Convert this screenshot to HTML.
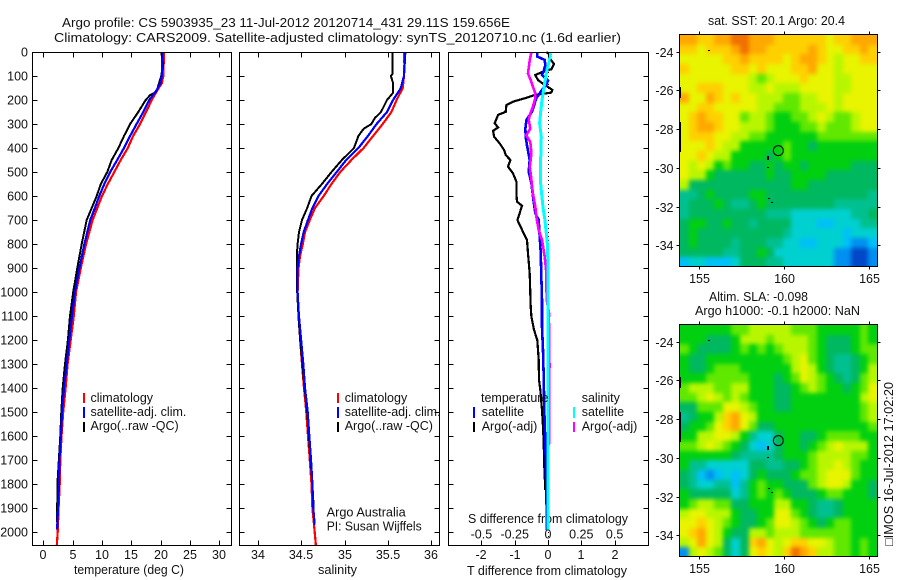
<!DOCTYPE html>
<html lang="en">
<head>
<meta charset="utf-8">
<title>Argo profile CS 5903935_23</title>
<style>
html,body{margin:0;padding:0;background:#fff;width:900px;height:580px;overflow:hidden}
svg{display:block}
text{font-family:"Liberation Sans",Arial,sans-serif;font-size:12.5px;fill:#111}
</style>
</head>
<body>
<svg id="fig" width="900" height="580" viewBox="0 0 900 580" xmlns="http://www.w3.org/2000/svg">
<defs>
<filter id="soften" x="-10%" y="-10%" width="120%" height="120%" color-interpolation-filters="sRGB"><feGaussianBlur stdDeviation="2.2"/></filter>
<clipPath id="clip-sst"><rect x="680" y="35" width="197" height="232"/></clipPath>
<clipPath id="clip-sla"><rect x="680" y="325" width="197" height="232"/></clipPath>
</defs>
<text x="62" y="27" textLength="448" lengthAdjust="spacingAndGlyphs">Argo profile: CS 5903935_23 11-Jul-2012 20120714_431 29.11S 159.656E</text>
<text x="54" y="42" textLength="567" lengthAdjust="spacingAndGlyphs">Climatology: CARS2009. Satellite-adjusted climatology: synTS_20120710.nc (1.6d earlier)</text>
<text x="74" y="574" textLength="110" lengthAdjust="spacingAndGlyphs">temperature (deg C)</text>
<text x="318" y="574" textLength="39" lengthAdjust="spacingAndGlyphs">salinity</text>
<text x="468" y="523" textLength="160" lengthAdjust="spacingAndGlyphs">S difference from climatology</text>
<text x="467" y="575" textLength="160" lengthAdjust="spacingAndGlyphs">T difference from climatology</text>
<text x="708" y="25" textLength="137" lengthAdjust="spacingAndGlyphs">sat. SST: 20.1 Argo: 20.4</text>
<text x="709" y="301" textLength="99" lengthAdjust="spacingAndGlyphs">Altim. SLA: -0.098</text>
<text x="695" y="315" textLength="165" lengthAdjust="spacingAndGlyphs">Argo h1000: -0.1 h2000: NaN</text>
<text x="326.7" y="516.7" textLength="79" lengthAdjust="spacingAndGlyphs">Argo Australia</text>
<text x="326.7" y="530.7" textLength="95" lengthAdjust="spacingAndGlyphs">PI: Susan Wijffels</text>
<text transform="translate(893,546) rotate(-90)" textLength="164" lengthAdjust="spacingAndGlyphs">□IMOS 16-Jul-2012 17:02:20</text>
</svg>
<script>
// ---------- profile data ----------
const tempDepthClim = [0,100,130,165,200,250,300,350,400,450,500,550,600,650,700,800,900,1000,1100,1200,1300,1400,1500,1600,1700,1800,1900,2000,2055];
const tempClim = [20.57,20.46,20.2,19.3,18.5,17.5,16.5,15.3,14.4,13.2,12.1,11.0,10.0,9.2,8.4,7.3,6.4,5.57,5.2,4.67,4.15,3.8,3.4,3.1,2.9,2.8,2.6,2.45,2.3];
const tempDepthSat = [0,100,130,165,200,250,300,350,400,450,500,550,600,650,700,800,900,1000,1100,1200,1300,1400,1500,1600,1700,1800,1900,1990];
const tempSat = [20.3,20.2,20.0,19.15,18.07,17.05,15.9,14.8,13.75,12.6,11.4,10.4,9.55,8.8,8.0,7.0,6.15,5.4,4.9,4.43,3.98,3.53,3.2,3.0,2.75,2.67,2.5,2.35];
const tempDepthArgo = [0,50,100,165,180,200,250,300,350,400,450,500,550,600,650,700,800,900,1000,1100,1200,1300,1400,1500,1600,1800,1960];
const tempArgo = [20.1,20.45,20.1,19.3,18.2,17.45,16.2,14.8,13.75,12.8,11.65,10.9,9.8,9.1,8.25,7.4,6.55,5.8,5.1,4.55,4.2,3.7,3.3,3.07,2.9,2.4,2.35];

const salDepthClim = [0,50,100,150,200,250,300,350,400,450,500,550,600,650,700,750,800,850,900,1000,1100,1200,1300,1400,1500,1600,1700,1800,1900,2000,2055];
const salClim = [35.685,35.69,35.685,35.67,35.6,35.54,35.44,35.33,35.22,35.08,34.95,34.85,34.76,34.66,34.6,34.545,34.52,34.487,34.47,34.46,34.47,34.49,34.51,34.533,34.56,34.58,34.6,34.62,34.63,34.657,34.67];
const salDepthSat = [0,100,120,150,200,250,300,350,400,450,500,550,600,650,700,750,800,850,900,1000,1100,1200,1300,1400,1500,1600,1700,1800,1900,1970];
const salSat = [35.7,35.685,35.67,35.65,35.56,35.49,35.37,35.27,35.16,35.02,34.91,34.8,34.7,34.63,34.58,34.53,34.5,34.476,34.46,34.46,34.475,34.5,34.525,34.545,34.576,34.595,34.614,34.63,34.64,34.657];
const salDepthArgo = [0,90,100,130,170,200,250,275,300,320,350,400,450,500,550,600,650,700,750,800,850,900,1000,1100,1200,1300,1400,1500,1600,1700,1800,1900];
const salArgo = [35.555,35.555,35.535,35.56,35.56,35.49,35.42,35.35,35.31,35.22,35.16,35.11,34.97,34.85,34.74,34.62,34.57,34.51,34.476,34.46,34.45,34.45,34.455,34.47,34.49,34.515,34.54,34.57,34.59,34.61,34.63,34.645];

const diffDepthT = [0,12,26,50,72,82,96,117,137,158,169,179,193,207,221,249,262,297,314,328,353,381,408,429,450,478,506,540,589,624,640,658,700,749,783,839,922,1061,1103,1158,1200,1283,1366,1408,1492,1561,1630,1728,1825];
const diffT = [-0.05,0.08,0.05,0.18,0.1,-0.15,-0.38,-0.3,-0.1,0.13,0.1,-0.4,-0.7,-1.05,-1.25,-1.27,-1.5,-1.6,-1.5,-1.65,-1.62,-1.45,-1.32,-1.27,-1.13,-1.2,-1.05,-0.95,-0.95,-0.93,-0.78,-0.82,-0.92,-0.75,-0.63,-0.6,-0.55,-0.52,-0.5,-0.42,-0.32,-0.28,-0.27,-0.23,-0.18,-0.15,-0.13,-0.11,-0.08];
const diffDepthSatT = [0,19,33,54,75,96,119,137,158,193,249,283,319,354,389,450,499,547,603,672,700,769,833,931,1033,1144,1242,1353,1492,1630,1825,1992];
const diffSatT = [-0.32,-0.32,-0.1,-0.08,-0.12,-0.18,0,-0.05,-0.18,-0.35,-0.48,-0.65,-0.68,-0.67,-0.63,-0.55,-0.58,-0.5,-0.45,-0.38,-0.28,-0.25,-0.22,-0.2,-0.18,-0.18,-0.15,-0.13,-0.11,-0.08,-0.05,-0.03];
const diffDepthArgoS = [0,33,89,117,144,172,193,228,262,283,319,347,375,422,478,533,589,644,686,742,783,853,922,964,1033,1089,1110,1311,1366,1630,1644,1992];
const diffArgoS = [-0.125,-0.137,-0.15,-0.13,-0.113,-0.095,-0.095,-0.113,-0.137,-0.145,-0.133,-0.163,-0.133,-0.125,-0.137,-0.125,-0.113,-0.095,-0.088,-0.07,-0.045,-0.025,-0.012,-0.012,-0.01,0.008,0.007,0.011,0.008,0.008,0,0];
const diffDepthSatS = [0,47,75,117,158,200,249,297,353,422,478,533,589,644,700,756,811,922,1061,1992];
const diffSatS = [0.018,0.005,-0.008,-0.02,-0.033,-0.045,-0.055,-0.063,-0.05,-0.053,-0.058,-0.058,-0.048,-0.038,-0.023,-0.013,-0.003,0,0,0];

// ---------- axis labels ----------
const depthTicks = [0,100,200,300,400,500,600,700,800,900,1000,1100,1200,1300,1400,1500,1600,1700,1800,1900,2000];
const tempTicks = [0,5,10,15,20,25,30];
const salTicks = [34,34.5,35,35.5,36];
const diffTTicks = [-2,-1,0,1,2];
const diffSTicks = ["-0.5","-0.25","0","0.25","0.5"];
const lonTicks = [155,160,165];
const latTicks = [-24,-26,-28,-30,-32,-34];

// ---------- map data: colour levels, 23 columns x 24 rows ----------
const sstLevels = [
[11,11,10,10,11,11,12,12,11,11,11,10,10,10,10,10,10,9,10,10,11,11,11],
[10,10,9,10,10,10,11,12,11,11,10,10,10,10,10,11,10,9,9,10,10,11,10],
[9,9,9,9,9,10,10,11,10,10,10,10,9,10,11,11,10,9,8,9,9,10,10],
[10,9,9,9,9,9,10,10,9,10,9,9,9,10,10,11,9,9,8,9,9,9,9],
[9,9,9,9,9,9,9,9,8,7,8,9,9,9,10,9,9,9,8,8,9,9,9],
[9,9,10,10,10,9,9,9,8,8,9,8,8,8,9,9,9,9,8,8,9,9,9],
[11,9,9,11,10,9,10,9,9,8,8,8,7,7,8,8,9,9,8,9,9,9,9],
[9,9,10,10,9,9,9,9,9,8,8,7,7,7,8,8,8,9,8,9,9,9,9],
[9,10,11,10,10,9,9,7,8,8,7,6,6,7,7,8,9,8,7,7,8,9,9],
[9,10,11,11,10,9,9,8,8,8,7,6,6,6,7,7,8,7,7,7,8,9,9],
[9,10,10,10,9,9,8,8,7,7,6,6,6,6,6,6,7,7,7,7,7,7,7],
[9,9,9,10,9,8,8,6,6,6,6,6,7,6,6,5,6,6,6,6,6,6,6],
[9,9,10,9,8,8,6,6,6,6,5,6,7,6,6,6,6,6,6,6,6,6,6],
[9,8,9,8,6,7,6,6,5,5,6,5,6,6,5,6,6,6,6,6,5,5,5],
[9,8,8,6,5,5,5,5,5,5,6,5,5,6,6,6,6,5,5,5,5,5,5],
[8,5,5,5,5,5,5,5,5,5,5,5,5,6,6,5,5,5,5,5,5,5,5],
[4,4,5,6,5,5,5,5,6,6,5,5,5,5,5,5,5,5,5,5,5,5,4],
[4,5,5,5,6,5,4,4,5,6,5,5,5,5,5,5,5,5,4,4,4,4,4],
[4,5,5,5,5,5,5,5,5,5,4,4,4,3,3,3,3,3,3,3,4,4,5],
[5,6,6,5,5,6,5,5,4,5,5,5,5,3,3,3,2,2,3,3,3,4,4],
[5,6,5,5,5,5,5,5,5,5,5,5,4,3,3,3,3,3,3,2,3,3,3],
[5,6,5,5,5,5,4,5,5,5,4,4,3,3,2,2,3,3,3,2,1,1,2],
[5,5,5,5,5,4,4,5,5,6,5,3,3,3,3,3,3,3,1,1,0,0,1],
[2,3,3,2,2,2,3,5,5,5,4,4,3,3,3,3,3,3,1,1,0,0,1]
];
const slaLevels = [
[6,6,6,6,6,6,7,7,8,8,8,8,8,7,7,7,6,6,6,6,6,7,6],
[6,6,6,5,5,5,6,8,8,8,7,8,8,8,8,7,6,5,5,5,6,7,6],
[7,6,5,5,5,5,6,7,6,7,6,7,8,8,8,7,6,5,5,5,6,7,7],
[6,5,5,6,6,6,6,6,6,6,6,6,7,8,9,7,6,5,4,4,5,6,7],
[6,5,5,6,7,7,7,6,6,6,6,6,6,8,9,8,6,5,4,4,5,6,8],
[6,6,6,7,7,7,7,7,6,6,6,5,6,7,9,8,7,6,5,4,5,7,8],
[7,8,8,8,7,7,8,8,6,6,6,5,5,6,7,8,7,6,6,5,6,7,9],
[7,7,8,9,8,7,8,7,6,6,6,5,5,6,6,6,6,6,6,6,6,8,9],
[5,5,7,7,7,9,9,8,7,6,6,5,5,6,6,6,6,6,6,6,6,7,8],
[4,5,6,6,8,10,11,9,8,6,6,6,6,6,6,6,6,6,6,6,6,7,8],
[5,6,6,7,9,10,11,9,7,5,5,6,6,6,6,6,6,6,6,6,6,6,7],
[6,6,8,8,9,9,8,6,4,3,3,5,6,6,5,5,6,7,7,7,7,6,6],
[7,7,8,9,8,7,6,5,3,2,3,5,6,6,5,6,7,8,9,8,8,8,6],
[6,6,6,6,6,6,5,4,4,4,4,5,6,6,6,7,8,8,8,8,7,7,6],
[6,4,4,3,3,3,3,3,5,5,4,4,5,5,6,7,8,8,9,8,7,6,6],
[5,4,2,1,2,3,2,3,5,6,5,5,5,6,7,7,8,9,9,9,7,6,6],
[5,4,3,3,4,4,2,4,6,7,6,6,5,5,5,7,8,9,9,8,6,6,5],
[6,5,5,5,5,5,3,4,6,7,6,7,6,5,5,5,6,7,7,6,6,6,5],
[6,7,8,8,7,7,5,5,6,6,6,8,8,6,6,5,4,4,5,6,6,6,6],
[8,9,9,8,8,8,6,5,5,6,6,9,9,7,6,5,4,4,5,6,6,6,6],
[9,9,10,9,8,7,6,5,5,6,7,9,9,8,7,6,5,6,7,7,6,6,6],
[9,10,11,9,8,6,5,5,8,8,7,8,8,8,7,7,7,7,7,7,6,6,6],
[8,9,11,9,8,5,3,5,10,11,9,8,9,10,10,9,9,8,7,7,6,7,6],
[1,8,9,8,7,5,3,5,9,10,9,8,10,12,11,10,8,8,7,7,6,7,6]
];
const levelColours = ["#0048c8","#0090f0","#00c0f8","#00d0d0","#00c090","#00b860","#00d010","#60e800","#b8f600","#e8f400","#ffd000","#ffa800","#f07000"];
const floatLon = [159.656];
const floatLat = [-29.11];
const coastLon = [155.5,159.0,159.0,159.05,159.2];
const coastLat = [-23.9,-29.4,-29.95,-31.55,-31.75];

// ---------- helpers ----------
const svg = document.getElementById('fig');
const NS = 'http://www.w3.org/2000/svg';
function mk(tag, attrs, parent){
  const e = document.createElementNS(NS, tag);
  for (const k in attrs) e.setAttribute(k, attrs[k]);
  (parent || svg).appendChild(e);
  return e;
}
const yDepth = z => 52 + 0.24 * z;
const xTemp = t => 43.3 + 5.867 * t;
const xSal = s => 257.7 + 86.8 * (s - 34);
const xDiffT = t => 548 + 33.3 * t;
const xDiffS = s => 548 + 133.2 * s;
const xLon = l => 699.3 + 16.97 * (l - 155);
const yLatTop = l => 51.7 + 19.36 * (-24 - l);

function series(name, depths, values, xf, colour, w){
  const pts = depths.map((z, i) => xf(values[i]).toFixed(1) + ',' + yDepth(z).toFixed(1)).join(' ');
  const el = mk('polyline', {points: pts, fill: 'none', stroke: colour, 'stroke-width': w || 2, 'shape-rendering': 'crispEdges'});
  
  
}
function label(name, x, y, txt, anchor){
  const el = mk('text', {x: x, y: y, 'text-anchor': anchor || 'start'});
  el.textContent = txt;
  
  
}
function seg(name, x1, y1, x2, y2){
  const el = mk('line', {x1: x1, y1: y1, x2: x2, y2: y2, stroke: '#000', 'stroke-width': 1, 'shape-rendering': 'crispEdges'});
  
  
}
function frame(name, x, y, w, h){
  const el = mk('rect', {x: x, y: y, width: w, height: h, fill: 'none', stroke: '#000', 'stroke-width': 1, 'shape-rendering': 'crispEdges'});
  
  
}
function legendBar(name, x, y, h, colour){
  const el = mk('rect', {x: x, y: y, width: 2, height: h, fill: colour});
  
  
}

// ---------- profile panels ----------
const panels = [
  {key:'temperature', x0:32.5, x1:231.5},
  {key:'salinity', x0:239.5, x1:439.5},
  {key:'difference', x0:448.5, x1:648.5}
];
series('temperature-climatology-line', tempDepthClim, tempClim, xTemp, '#ff0000', 2.2);
series('temperature-argo-line', tempDepthArgo, tempArgo, xTemp, '#000000', 2);
series('temperature-satellite-line', tempDepthSat, tempSat, xTemp, '#0000ff', 2.2);
series('salinity-climatology-line', salDepthClim, salClim, xSal, '#ff0000', 2.2);
series('salinity-argo-line', salDepthArgo, salArgo, xSal, '#000000', 2);
series('salinity-satellite-line', salDepthSat, salSat, xSal, '#0000ff', 2.2);

// zero reference dots
for (let z = 0; z < 2050; z += 16.67) {
  const dot = mk('rect', {x: xDiffT(0), y: yDepth(z).toFixed(0), width: 1, height: 1, fill: '#000'});
  
  
}
series('difference-t-argo-line', diffDepthT, diffT, xDiffT, '#000000', 2.2);
series('difference-t-satellite-line', diffDepthSatT, diffSatT, xDiffT, '#0000ff', 2.6);
series('difference-s-argo-line', diffDepthArgoS, diffArgoS, xDiffS, '#ff00ff', 2.6);
series('difference-s-satellite-line', diffDepthSatS, diffSatS, xDiffS, '#00ffff', 3);

panels.forEach(p => {
  frame(p.key + '-panel-frame', p.x0, 52.5, p.x1 - p.x0, 493);
  depthTicks.forEach(z => {
    const y = Math.round(yDepth(z)) + 0.5;
    seg(p.key + '-depth-tick-left', p.x0, y, p.x0 + 5, y);
    seg(p.key + '-depth-tick-right', p.x1 - 5, y, p.x1, y);
  });
});
depthTicks.forEach(z => {
  label('depth-tick-label', 28, yDepth(z) + 4.5, String(z), 'end');
});
function xTicks(prefix, vals, xf, labels, yLabel){
  vals.forEach((v, i) => {
    const x = Math.round(xf(v)) + 0.5;
    seg(prefix + '-tick-top', x, 52.5, x, 57.5);
    seg(prefix + '-tick-bottom', x, 540.5, x, 545.5);
    label(prefix + '-tick-label', x - 0.5, yLabel, labels[i], 'middle');
  });
}
xTicks('temperature', tempTicks, xTemp, tempTicks.map(String), 559);
xTicks('salinity', salTicks, xSal, salTicks.map(String), 559);
xTicks('t-difference', diffTTicks, xDiffT, diffTTicks.map(String), 559);
diffSTicks.forEach(s => {
  label('s-difference-tick-label', xDiffS(parseFloat(s)), 538.7, s, 'middle');
});

// ---------- legends ----------
legendBar('temperature-legend-climatology-swatch', 83, 393, 10, '#ff0000');
legendBar('temperature-legend-satellite-swatch', 83, 407, 11, '#0000ff');
legendBar('temperature-legend-argo-swatch', 83, 422, 10, '#000000');
label('temperature-legend-climatology', 90.5, 402, 'climatology');
label('temperature-legend-satellite', 90.5, 416, 'satellite-adj. clim.');
label('temperature-legend-argo', 90.5, 430, 'Argo(..raw -QC)');
legendBar('salinity-legend-climatology-swatch', 337, 393, 10, '#ff0000');
legendBar('salinity-legend-satellite-swatch', 337, 407, 11, '#0000ff');
legendBar('salinity-legend-argo-swatch', 337, 422, 10, '#000000');
label('salinity-legend-climatology', 344.7, 402, 'climatology');
label('salinity-legend-satellite', 344.7, 416, 'satellite-adj. clim.');
label('salinity-legend-argo', 344.7, 430, 'Argo(..raw -QC)');
label('difference-legend-temperature-heading', 481, 402, 'temperature');
label('difference-legend-t-satellite', 481.7, 416, 'satellite');
label('difference-legend-t-argo', 481.7, 430.5, 'Argo(-adj)');
label('difference-legend-salinity-heading', 581.7, 402, 'salinity');
label('difference-legend-s-satellite', 581.7, 416, 'satellite');
label('difference-legend-s-argo', 581.7, 430.5, 'Argo(-adj)');
legendBar('difference-legend-t-satellite-swatch', 473, 407, 11, '#0000ff');
legendBar('difference-legend-t-argo-swatch', 473, 422, 10, '#000000');
legendBar('difference-legend-s-satellite-swatch', 573, 407, 11, '#00ffff');
legendBar('difference-legend-s-argo-swatch', 573, 422, 10, '#ff00ff');

// ---------- maps ----------
function colourOf(v){
  const i = Math.max(0, Math.min(levelColours.length - 1, Math.round(v)));
  return levelColours[i];
}
function drawMap(prefix, levels, top){
  const left = 680, width = 197, height = 232, pad = 12;
  const rows = levels.length, cols = levels[0].length;
  const clip = mk('g', {'clip-path': 'url(#clip-' + prefix + ')'});
  
  
  const soft = mk('g', {filter: 'url(#soften)'}, clip);
  
  
  levels.forEach((row, j) => {
    row.forEach((v, i) => {
      let x0 = Math.round(left + width * i / cols), x1 = Math.round(left + width * (i + 1) / cols);
      let y0 = Math.round(top + height * j / rows), y1 = Math.round(top + height * (j + 1) / rows);
      if (i === 0) x0 -= pad;
      if (i === cols - 1) x1 += pad;
      if (j === 0) y0 -= pad;
      if (j === rows - 1) y1 += pad;
      const c = mk('rect', {x: x0, y: y0, width: x1 - x0, height: y1 - y0, fill: colourOf(v), 'shape-rendering': 'crispEdges'}, soft);
      
      
    });
  });
  const off = top - 35;
  frame(prefix + '-map-frame', 679.5, top - 0.5, 198, 232);
  lonTicks.forEach(l => {
    const x = Math.round(xLon(l)) + 0.5;
    seg(prefix + '-lon-tick-top', x, top - 3.5, x, top - 0.5);
    seg(prefix + '-lon-tick-bottom', x, top + 231.5, x, top + 234.5);
    label(prefix + '-lon-tick-label', x, top + 248, String(l), 'middle');
  });
  latTicks.forEach(l => {
    const y = Math.round(yLatTop(l) + off) + 0.5;
    seg(prefix + '-lat-tick-left', 676.5, y, 679.5, y);
    seg(prefix + '-lat-tick-right', 877.5, y, 880.5, y);
    label(prefix + '-lat-tick-label', 673.5, y + 4.5, String(l), 'end');
  });
  coastLon.forEach((l, i) => {
    const sp = mk('rect', {x: Math.round(xLon(l)), y: Math.round(yLatTop(coastLat[i]) + off), width: 2, height: i === 1 ? 4 : 1, fill: '#000'});
    
    
  });
  const edge1 = mk('rect', {x: 679, y: 87 + off, width: 2, height: 11, fill: '#000'});
  
  
  const edge2 = mk('rect', {x: 679, y: 122 + off, width: 2, height: 30, fill: '#000'});
  
  
  floatLon.forEach((l, i) => {
    const m = mk('circle', {cx: xLon(l), cy: yLatTop(floatLat[i]) + off, r: 5, fill: 'none', stroke: '#000', 'stroke-width': 1});
    
    
  });
}
drawMap('sst', sstLevels, 35);
drawMap('sla', slaLevels, 325);
</script>
</body>
</html>
